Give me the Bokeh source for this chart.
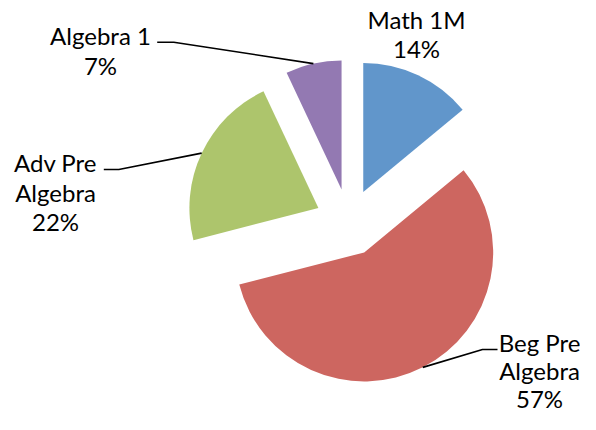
import numpy as np
from bokeh.plotting import figure
from bokeh.models import Range1d, ColumnDataSource
from bokeh.core.properties import value
from bokeh.embed import file_html
from bokeh.resources import INLINE

# ---- data ----
categories = ["Math 1M", "Beg Pre Algebra", "Adv Pre Algebra", "Algebra 1"]
values = [14, 57, 22, 7]
label_lines = [["Math 1M"], ["Beg Pre", "Algebra"], ["Adv Pre", "Algebra"], ["Algebra 1"]]
colors = ["#6196CB", "#CD6660", "#ADC56C", "#9379B2"]

# ---- layout constants (pixel space; y measured from top) ----
W, H = 580, 414
CX, CY_IMG = 348.4, 221.9
R = 129.0
EXPLODE = 33.7
MID_OFF = 8.5  # baseline -> vertical middle of capitals
# label anchors: (center x, first baseline y from top, line step)
label_pos = [(416, 27.3, 29.5), (539, 350.5, 28.0), (55, 170.7, 29.5), (100, 43.3, 30.0)]
# leader line elbows: (elbow x, elbow y, end x of horizontal part) ; None = no leader
leaders = [None, (482, 349.0, 497), (118.3, 169.0, 103.3), (173.3, 41.7, 156.7)]


def fy(y_img):
    return H - y_img


p = figure(width=W, height=H, output_backend="svg", toolbar_location=None,
           x_range=Range1d(0, W), y_range=Range1d(0, H),
           x_axis_type=None, y_axis_type=None, min_border=0)
p.grid.visible = False
p.outline_line_color = None
p.background_fill_color = "white"
p.border_fill_color = "white"

vals = np.array(values, dtype=float)
frac = vals / vals.sum()
cum = np.concatenate([[0.0], np.cumsum(frac)])
t1 = cum[:-1] * 2 * np.pi  # clockwise from top
t2 = cum[1:] * 2 * np.pi
mid = (t1 + t2) / 2

cy = fy(CY_IMG)
ax = CX + EXPLODE * np.sin(mid)
ay = cy + EXPLODE * np.cos(mid)

src = ColumnDataSource(dict(x=ax, y=ay, start=np.pi / 2 - t2, end=np.pi / 2 - t1,
                            color=colors, cat=categories))
p.wedge(x="x", y="y", radius=R, start_angle="start", end_angle="end",
        fill_color="color", line_color=None, source=src)

# leader lines
for i, ld in enumerate(leaders):
    if ld is None:
        continue
    mx = ax[i] + R * np.sin(mid[i])
    my = ay[i] + R * np.cos(mid[i])
    ex, ey, hx = ld
    p.line([mx, ex, hx], [my, fy(ey), fy(ey)], line_color="black", line_width=1.6)

# labels
tx, ty, tt = [], [], []
for i, lines in enumerate(label_lines):
    pct = f"{int(round(frac[i] * 100))}%"
    x0, y0, step = label_pos[i]
    for k, s in enumerate(lines + [pct]):
        tx.append(x0)
        ty.append(fy(y0 + k * step - MID_OFF))
        tt.append(s)

p.text(x=tx, y=ty, text=tt, text_font=value("Lato"), text_font_size="24px",
       text_align="center", text_baseline="middle", text_color="black")

open("out.html", "w").write(file_html(p, INLINE))
